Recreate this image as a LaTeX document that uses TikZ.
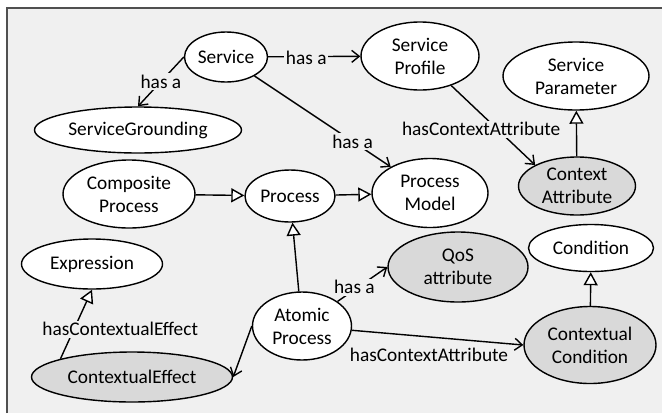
\documentclass[tikz,border=0pt]{standalone}
\usepackage{fontspec}
\setmainfont{Carlito}
\usetikzlibrary{shapes.geometric,arrows.meta}
\definecolor{panel}{HTML}{F0F0F0}
\definecolor{ctxfill}{HTML}{D9D9D9}
\definecolor{rim}{HTML}{505050}
\tikzset{
    class/.style = {draw, ellipse, fill=white, line width=0.8pt,
        inner sep=0pt, align=center, font=\fontsize{11}{13}\selectfont},
    ctxclass/.style = {class, fill=ctxfill},
    oval/.style 2 args = {minimum width=#1*0.02cm, minimum height=#2*0.02cm},
    hasa/.style = {draw, line width=0.8pt, -{Straight Barb[length=1.5mm,width=2.4mm]}},
    isa/.style = {draw, line width=0.8pt, -{Triangle[fill=white,length=2.6mm,width=2.8mm]}},
    rel/.style = {fill=panel, inner sep=1pt, font=\fontsize{11}{13}\selectfont}
}

\begin{document}
\begin{tikzpicture}[x=0.02cm, y=-0.02cm]
    \useasboundingbox (0,0) rectangle (662,413);
    \fill [white] (0,0) rectangle (662,413);
    \fill [panel] (7,8) rectangle (662,413);
    \draw [rim, line width=1.2pt] (7,413) -- (7,8) -- (662,8);

    \node [class, oval={83}{50}] (service) at (226,57) {Service};
    \node [class, oval={118}{68}] (profile) at (420,56) {Service\\Profile};
    \node [class, oval={146}{68}] (param) at (576,76) {Service\\Parameter};
    \node [class, oval={207}{46}] (grounding) at (138,130) {ServiceGrounding};
    \node [class, oval={132}{68}] (composite) at (129,194) {Composite\\Process};
    \node [class, oval={90}{52}] (process) at (290,196) {Process};
    \node [class, oval={116}{69}] (model) at (430,193) {Process\\Model};
    \node [ctxclass, oval={117}{58}] (ctxattr) at (577,186) {Context\\Attribute};
    \node [class, oval={141}{50}] (expr) at (92,264) {Expression};
    \node [ctxclass, oval={201}{50}] (effect) at (132,377) {ContextualEffect};
    \node [class, oval={99}{68}] (atomic) at (302,326) {Atomic\\Process};
    \node [ctxclass, oval={140}{70}] (qos) at (458,267) {QoS\\attribute};
    \node [class, oval={125}{47}] (cond) at (591,248) {Condition};
    \node [ctxclass, oval={132}{77}] (ctxcond) at (590,345) {Contextual\\Condition};

    \draw [hasa] (service.west) -- node [rel] {has a} (grounding.north);
    \draw [hasa] (service) -- node [rel, shift={(-8,1)}] {has a} (profile);
    \draw [hasa] (service) -- node [rel, pos=0.72] {has a} (model);
    \draw [hasa] (profile) -- node [rel, shift={(-12,4)}] {hasContextAttribute} (ctxattr.north west);
    \draw [isa] (ctxattr) -- (param);
    \draw [isa] (composite) -- (process);
    \draw [isa] (process) -- (model);
    \draw [isa] (atomic) -- (process);
    \draw [isa] (ctxcond) -- (cond);
    \draw [hasa] (atomic) -- node [rel, shift={(-8,3)}] {has a} (qos.west);
    \draw [hasa] (atomic) -- node [rel, pos=0.45, shift={(0,18)}] {hasContextAttribute} (ctxcond.west);
    \draw [hasa] (atomic.west) -- (effect.east);
    \draw [isa] (effect.north west) -- node [rel, shift={(44,5)}] {hasContextualEffect} (expr.south);
\end{tikzpicture}
\end{document}
